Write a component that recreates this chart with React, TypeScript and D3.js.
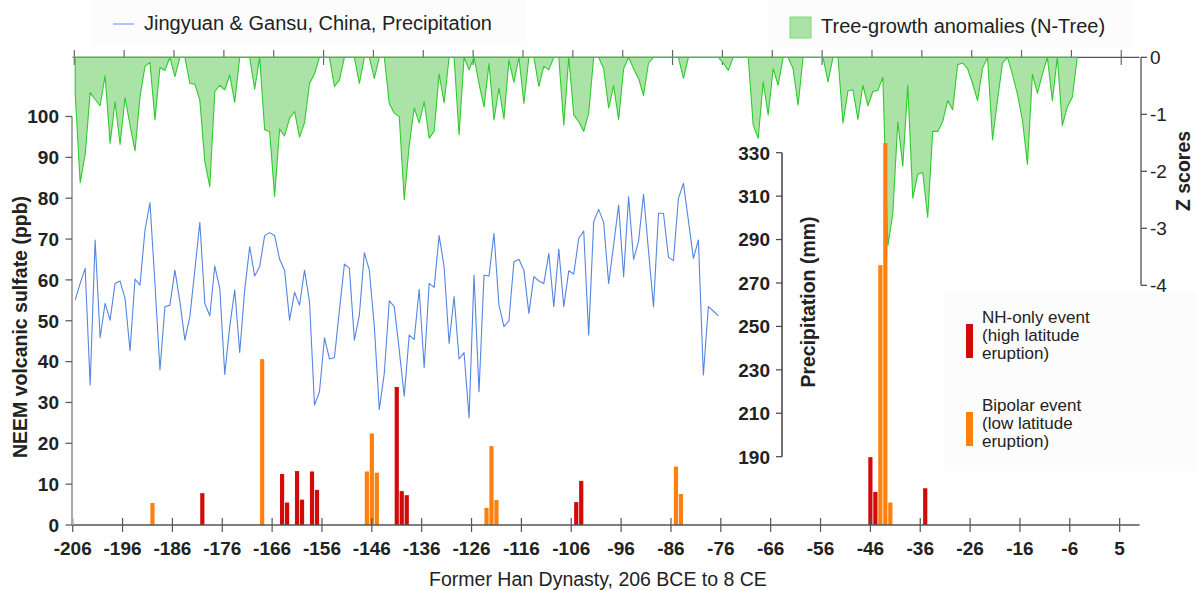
import React, { useEffect } from 'react';
import * as d3 from 'd3';

const W = 1196;
const H = 590;
const FONT = '"Liberation Sans", Arial, Helvetica, sans-serif';

// both yearly series start in 206 BCE
const firstYear = -206;

// Jingyuan & Gansu precipitation (mm), one value per year from -206
const precipitation = [
  262.2, 269.8, 276.7, 223.0, 289.8, 244.8, 260.6, 252.9, 269.8, 270.9,
  262.9, 238.8, 271.8, 269.0, 294.4, 307.0, 269.8, 229.9, 259.1, 259.8,
  275.9, 261.4, 243.7, 254.5, 275.9, 297.9, 260.6, 254.9, 277.8, 267.5,
  227.9, 249.9, 266.8, 238.0, 266.8, 286.7, 273.2, 277.5, 291.8, 293.2,
  291.9, 280.9, 275.9, 252.9, 265.7, 259.8, 275.9, 261.4, 213.8, 219.9,
  244.8, 235.0, 235.7, 257.5, 278.7, 276.7, 243.7, 255.2, 283.9, 275.9,
  249.9, 211.8, 228.4, 261.8, 259.1, 239.1, 217.9, 246.0, 244.0, 267.1,
  231.0, 269.8, 268.0, 291.8, 277.5, 242.2, 263.7, 235.0, 237.9, 207.9,
  273.6, 219.9, 273.6, 273.2, 292.8, 259.8, 249.9, 252.6, 279.8, 280.9,
  275.9, 256.0, 272.9, 270.9, 269.8, 283.6, 259.1, 285.6, 259.1, 275.6,
  274.1, 290.6, 293.9, 246.0, 298.2, 303.9, 297.8, 269.8, 287.5, 305.9,
  272.9, 309.7, 280.9, 289.3, 310.8, 284.7, 259.1, 302.1, 302.1, 281.8,
  280.3, 309.0, 315.9, 298.7, 281.3, 289.8, 227.6, 259.1, 257.1, 254.9,
];

// N-Tree growth anomalies (z scores), only the part below 0 is shown
const treeGrowth = [
  -0.63, -2.2, -1.71, -0.62, -0.74, -0.85, -0.32, -1.51, -0.78, -1.53,
  -0.71, -1.19, -1.64, -0.69, -0.16, -0.09, -1.1, -0.18, -0.23, 0.3,
  -0.34, 0.3, 0.2, -0.46, -0.47, -0.75, -1.83, -2.27, -0.6, -0.49,
  -0.57, -0.31, -0.79, 0.3, 0.2, 0.2, -0.56, 0.3, -1.27, -1.3,
  -2.44, -1.26, -1.38, -1.07, -0.95, -1.4, -1.15, -0.46, -0.29, 0.3,
  0.2, 0.2, -0.51, -0.4, 0.3, 0.2, 0.2, -0.46, 0.3, 0.2,
  -0.37, 0.3, 0.1, -0.81, -0.98, -1.04, -2.5, -1.54, -0.89, -1.15,
  -0.78, -1.42, -1.3, -0.29, -0.8, 0.3, 0.3, -1.36, 0.3, -0.22,
  0.3, -0.46, -0.87, -0.11, -1.1, -0.54, -1.08, -0.05, -0.44, 0.3,
  -0.81, 0.3, 0.2, -0.51, -0.16, -0.22, 0.3, 0.3, -1.19, 0.3,
  -1.01, -1.13, -1.3, -0.98, 0.3, 0.3, -0.2, -0.89, -0.5, -1.09,
  -0.2, 0.3, -0.2, -0.37, -0.67, -0.1, 0.3, 0.2, 0.2, 0.2,
  0.2, 0.3, -0.37, 0.3, 0.2, 0.2, 0.2, 0.2, 0.2, 0.1,
  -0.1, -0.23, 0.1, 0.1, 0.2, 0.3, -1.19, -1.42, -0.43, -1.01,
  -0.2, -0.49, 0.3, 0.2, -0.2, -0.84, 0.3, 0.2, 0.2, 0.2,
  0.3, -0.43, 0.3, 0.3, -1.15, -0.59, -0.57, -1.09, -0.49, -0.85,
  -0.6, -0.58, -0.35, -3.31, -2.74, -1.13, -1.91, -0.49, -2.47, -2.05,
  -2.02, -2.81, -1.3, -1.3, -1.13, -0.76, -0.92, -0.13, -0.1, -0.2,
  -0.46, -0.76, -0.19, 0.3, -1.45, -0.75, -0.1, 0.2, -0.3, -0.65,
  -1.1, -1.88, -0.3, -0.63, -0.3, 0.3, -0.76, 0.3, -1.2, -0.87,
  -0.7, 0.3,
];

// NEEM volcanic sulfate events (ppb)
const nhYears = [-180, -164, -163, -161, -160, -158, -157, -141, -140, -139, -105, -104, -46, -45, -35];
const nhValues = [7.8, 12.5, 5.5, 13.2, 6.2, 13.1, 8.6, 33.8, 8.3, 7.3, 5.6, 10.8, 16.6, 8.1, 9.0];
const bipolarYears = [-190, -168, -147, -146, -145, -123, -122, -121, -85, -84, -44, -43, -42];
const bipolarValues = [5.4, 40.6, 13.1, 22.4, 12.8, 4.2, 19.3, 6.1, 14.3, 7.6, 63.6, 93.5, 5.5];

// tick values / labels (no year zero, so the last tick reads 5)
const xTicks = [-206, -196, -186, -176, -166, -156, -146, -136, -126, -116, -106, -96, -86, -76, -66, -56, -46, -36, -26, -16, -6, 4];
const xTickLabels = ['-206', '-196', '-186', '-176', '-166', '-156', '-146', '-136', '-126', '-116', '-106', '-96', '-86', '-76', '-66', '-56', '-46', '-36', '-26', '-16', '-6', '5'];
const ppbTicks = [0, 10, 20, 30, 40, 50, 60, 70, 80, 90, 100];
const precipTicks = [190, 210, 230, 250, 270, 290, 310, 330];
const zTicks = [0, -1, -2, -3, -4];

const RED = '#d20a0a';
const ORANGE = '#ff7f0f';
const BLUE = '#5585e3';
const GREEN_FILL = '#abe3a6';
const GREEN_LINE = '#2dcc2d';

const App = () => {
  useEffect(() => {
    document.body.style.margin = '0';
  }, []);

  const x = d3.scaleLinear().domain([-206, 8]).range([72.7, 1139.6]);
  const mid = (yr: number) => x(yr + 0.5);
  const yPpb = d3.scaleLinear().domain([0, 100]).range([525, 116.5]);
  const yMm = d3.scaleLinear().domain([190, 330]).range([456.7, 152.7]);
  const yZ = d3.scaleLinear().domain([0, -4]).range([57.3, 285.3]).clamp(true);

  const precipPath = d3.line<number>()
    .x((_, i) => mid(firstYear + i))
    .y((d) => yMm(d))(precipitation);

  const treeArea = d3.area<number>()
    .x((_, i) => mid(firstYear + i))
    .y0(yZ(0))
    .y1((d) => yZ(d));
  const treePath = treeArea(treeGrowth);

  const barW = 4.2;
  const tickFont = { fontFamily: FONT, fontSize: 19, fontWeight: 700, fill: '#222' } as const;

  return (
    <svg width={W} height={H} style={{ position: 'absolute', left: 0, top: 0, display: 'block' }}
         fontFamily={FONT}>
      <rect x={0} y={0} width={W} height={H} fill="#fff"/>

      {/* legend boxes, barely visible */}
      <rect x={92} y={0} width={434} height={46} fill="#fcfcfc"/>
      <rect x={768} y={0} width={364} height={48} fill="#fcfcfc"/>
      <rect x={943} y={293} width={253} height={178} fill="#fcfcfc"/>

      {/* top axis line (zero of the z scores) */}
      <line x1={x(-206)} x2={x(8)} y1={yZ(0)} y2={yZ(0)} stroke="#555" strokeWidth={1.2}/>
      {xTicks.map((t) => (
        <line key={'tt' + t} x1={x(t) + 1.6} x2={x(t) + 1.6} y1={50} y2={65} stroke="#666" strokeWidth={1.2}/>
      ))}

      {/* tree growth area */}
      <clipPath id="zclip">
        <rect x={60} y={yZ(0)} width={1100} height={240}/>
      </clipPath>
      <g clipPath="url(#zclip)">
        <path d={treePath || ''} fill={GREEN_FILL} stroke={GREEN_LINE} strokeWidth={1.1} strokeLinejoin="round"/>
      </g>
      <line x1={x(-206)} x2={mid(firstYear + treeGrowth.length - 1)} y1={yZ(0)} y2={yZ(0)} stroke={GREEN_LINE} strokeWidth={1.2}/>

      {/* precipitation line */}
      <path d={precipPath || ''} fill="none" stroke={BLUE} strokeWidth={1.1} strokeLinejoin="round"/>

      {/* sulfate bars */}
      {bipolarYears.map((yr, i) => (
        <rect key={'b' + yr} x={x(yr) - barW / 2} y={yPpb(bipolarValues[i])} width={barW}
              height={yPpb(0) - yPpb(bipolarValues[i])} fill={ORANGE}/>
      ))}
      {nhYears.map((yr, i) => (
        <rect key={'n' + yr} x={x(yr) - barW / 2} y={yPpb(nhValues[i])} width={barW}
              height={yPpb(0) - yPpb(nhValues[i])} fill={RED}/>
      ))}

      {/* bottom axis */}
      <line x1={x(-206)} x2={x(8)} y1={525} y2={525} stroke="#555" strokeWidth={1.4}/>
      {xTicks.map((t, i) => (
        <g key={'bt' + t}>
          <line x1={x(t)} x2={x(t)} y1={518} y2={532} stroke="#555" strokeWidth={1.2}/>
          <text x={x(t)} y={555} textAnchor="middle" {...tickFont}>{xTickLabels[i]}</text>
        </g>
      ))}
      <text x={598} y={586} textAnchor="middle" fontSize={19.5} fill="#222">Former Han Dynasty, 206 BCE to 8 CE</text>

      {/* left axis: NEEM sulfate */}
      <line x1={72} x2={72} y1={yPpb(100)} y2={yPpb(0)} stroke="#aaa" strokeWidth={2}/>
      {ppbTicks.map((t) => (
        <g key={'pp' + t}>
          <line x1={65.5} x2={72} y1={yPpb(t)} y2={yPpb(t)} stroke="#555" strokeWidth={1.2}/>
          <text x={59} y={yPpb(t)} dy="0.36em" textAnchor="end" {...tickFont}>{t}</text>
        </g>
      ))}
      <text transform={`translate(27,${327}) rotate(-90)`} textAnchor="middle" fontSize={19.5} fontWeight={700} fill="#222">
        NEEM volcanic sulfate (ppb)
      </text>

      {/* precipitation axis */}
      <line x1={782} x2={782} y1={yMm(330)} y2={yMm(190)} stroke="#222" strokeWidth={1.3}/>
      {precipTicks.map((t) => (
        <g key={'mm' + t}>
          <line x1={776} x2={782} y1={yMm(t)} y2={yMm(t)} stroke="#444" strokeWidth={1.2}/>
          <text x={770} y={yMm(t)} dy="0.36em" textAnchor="end" {...tickFont}>{t}</text>
        </g>
      ))}
      <text transform={`translate(815,${302}) rotate(-90)`} textAnchor="middle" fontSize={19.5} fontWeight={700} fill="#222">
        Precipitation (mm)
      </text>

      {/* z score axis */}
      <line x1={1141} x2={1141} y1={yZ(0)} y2={yZ(-4)} stroke="#444" strokeWidth={1.2}/>
      {zTicks.map((t) => (
        <g key={'z' + t}>
          <line x1={1141} x2={1147} y1={yZ(t)} y2={yZ(t)} stroke="#444" strokeWidth={1.2}/>
          <text x={1150} y={yZ(t)} dy="0.36em" fontSize={19} fill="#222">{t}</text>
        </g>
      ))}
      <text transform={`translate(1190,${171}) rotate(-90)`} textAnchor="middle" fontSize={19.5} fontWeight={700} fill="#222">
        Z scores
      </text>

      {/* legends */}
      <line x1={113} x2={134} y1={24} y2={24} stroke="#93b1ee" strokeWidth={1.5}/>
      <text x={144} y={30} fontSize={20} fill="#222">Jingyuan &amp; Gansu, China, Precipitation</text>

      <rect x={790} y={17} width={21} height={21} fill={GREEN_FILL} stroke="#7fd87a" strokeWidth={1}/>
      <text x={821} y={33} fontSize={20} fill="#222">Tree-growth anomalies (N-Tree)</text>

      <rect x={966} y={324} width={7} height={34} fill={RED}/>
      <text x={982} fontSize={17} fill="#222">
        <tspan x={982} y={323}>NH-only event</tspan>
        <tspan x={982} y={341}>(high latitude</tspan>
        <tspan x={982} y={359}>eruption)</tspan>
      </text>
      <rect x={966} y={412} width={7} height={34} fill={ORANGE}/>
      <text x={982} fontSize={17} fill="#222">
        <tspan x={982} y={411}>Bipolar event</tspan>
        <tspan x={982} y={429}>(low latitude</tspan>
        <tspan x={982} y={447}>eruption)</tspan>
      </text>
    </svg>
  );
};

export default App;
